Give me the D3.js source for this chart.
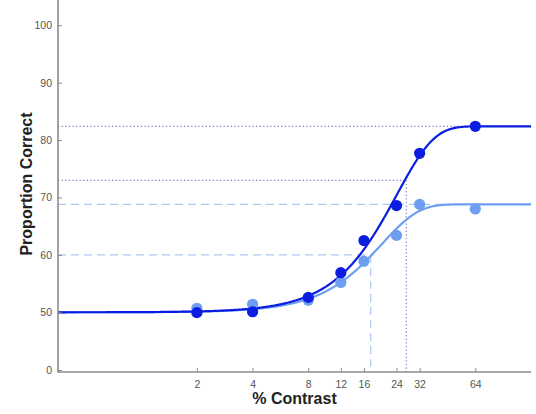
<!DOCTYPE html>
<html>
<head>
<meta charset="utf-8">
<script src="https://cdn.jsdelivr.net/npm/d3@7"></script>
<style>
  html, body { margin: 0; padding: 0; background: #fff; }
  svg { display: block; font-family: "Liberation Sans", Arial, Helvetica, sans-serif; }
</style>
</head>
<body>
<svg id="chart" width="536" height="414"></svg>
<script>
// Contrast levels (%) and proportion correct for the two conditions
const contrasts = [2, 4, 8, 12, 16, 24, 32, 64];
const highSeries = [49.7, 50.1, 52.6, 56.9, 62.5, 68.6, 77.7, 82.4];
const lowSeries  = [50.7, 51.4, 52.1, 55.2, 58.9, 63.4, 68.8, 68.0];

// Weibull fit parameters: guess rate, upper asymptote, scale (alpha), slope (beta)
const highFit = { guess: 50, top: 82.4, alpha: 24.1, beta: 2.16, threshold: 27.1, thresholdLevel: 73.0 };
const lowFit  = { guess: 50, top: 68.8, alpha: 20.0, beta: 2.2,  threshold: 17.4, thresholdLevel: 60.0 };

const xTicks = [2, 4, 8, 12, 16, 24, 32, 64];
const yTicks = [0, 50, 60, 70, 80, 90, 100];

const colors = {
  high: "#0a1de0",
  low: "#6d9ef0",
  highGuide: "#7878c8",
  lowGuide: "#aec8f2",
  axis: "#8c8c8c",
  tickText: "#555",
  title: "#222"
};

const svg = d3.select("#chart");
const plot = { left: 58, right: 531, top: -6, bottom: 372 };

const x = d3.scaleLog().base(2).domain([0.355, 128]).range([plot.left, plot.right]);
// Broken axis: the 0–50 span is compressed
const y = d3.scaleLinear().domain([0, 50, 100]).range([370, 312.3, 25.3]);

function weibull(f) {
  return c => f.guess + (f.top - f.guess) * (1 - Math.exp(-Math.pow(c / f.alpha, f.beta)));
}

// Guide lines (upper asymptote + threshold) for each condition
function guides(f, color, dash) {
  const g = svg.append("g").attr("stroke", color).attr("stroke-width", 1.2)
    .attr("stroke-dasharray", dash).attr("fill", "none");
  g.append("line").attr("x1", plot.left).attr("x2", plot.right)
    .attr("y1", y(f.top)).attr("y2", y(f.top));
  g.append("line").attr("x1", plot.left).attr("x2", x(f.threshold))
    .attr("y1", y(f.thresholdLevel)).attr("y2", y(f.thresholdLevel));
  g.append("line").attr("x1", x(f.threshold)).attr("x2", x(f.threshold))
    .attr("y1", y(f.thresholdLevel)).attr("y2", plot.bottom);
}
guides(lowFit, colors.lowGuide, "8,5");
guides(highFit, colors.highGuide, "1.2,2.4");

// Fitted curves
const [cMin, cMax] = x.domain();
const samples = d3.range(0, 401).map(i => cMin * Math.pow(cMax / cMin, i / 400));
const line = fn => d3.line().x(c => x(c)).y(c => y(fn(c)))(samples);

svg.append("path").attr("d", line(weibull(lowFit)))
  .attr("fill", "none").attr("stroke", colors.low).attr("stroke-width", 2.2);
svg.append("path").attr("d", line(weibull(highFit)))
  .attr("fill", "none").attr("stroke", colors.high).attr("stroke-width", 2.2);

// Data points
svg.append("g").selectAll("circle").data(contrasts.map((c, i) => [c, lowSeries[i]]))
  .join("circle").attr("cx", d => x(d[0])).attr("cy", d => y(d[1])).attr("r", 5.6)
  .attr("fill", colors.low);
svg.append("g").selectAll("circle").data(contrasts.map((c, i) => [c, highSeries[i]]))
  .join("circle").attr("cx", d => x(d[0])).attr("cy", d => y(d[1])).attr("r", 5.6)
  .attr("fill", colors.high);

// Axes
const xAxis = svg.append("g").attr("transform", `translate(0,${plot.bottom})`)
  .call(d3.axisBottom(x).tickValues(xTicks).tickFormat(d3.format("d")).tickSize(-4).tickPadding(9));
const yAxis = svg.append("g").attr("transform", `translate(${plot.left},0)`)
  .call(d3.axisLeft(y).tickValues(yTicks).tickSize(-4).tickPadding(6));

[xAxis, yAxis].forEach(a => {
  a.select(".domain").remove();
  a.selectAll(".tick line").attr("stroke", colors.axis).attr("stroke-width", 1);
  a.selectAll(".tick text").attr("fill", colors.tickText).attr("font-size", 10.5)
    .attr("font-family", "Liberation Sans, Arial, sans-serif");
});

svg.append("line").attr("x1", plot.left).attr("x2", plot.left)
  .attr("y1", plot.top).attr("y2", plot.bottom + 0.75)
  .attr("stroke", colors.axis).attr("stroke-width", 1.6);
svg.append("line").attr("x1", plot.left).attr("x2", plot.right)
  .attr("y1", plot.bottom).attr("y2", plot.bottom)
  .attr("stroke", colors.axis).attr("stroke-width", 1.6);

// Axis titles
svg.append("text").attr("x", (plot.left + plot.right) / 2).attr("y", 404)
  .attr("text-anchor", "middle").attr("font-size", 16).attr("font-weight", "bold")
  .attr("fill", colors.title).text("% Contrast");
svg.append("text").attr("transform", "translate(32,184) rotate(-90)")
  .attr("text-anchor", "middle").attr("font-size", 16).attr("font-weight", "bold")
  .attr("fill", colors.title).text("Proportion Correct");
</script>
</body>
</html>
